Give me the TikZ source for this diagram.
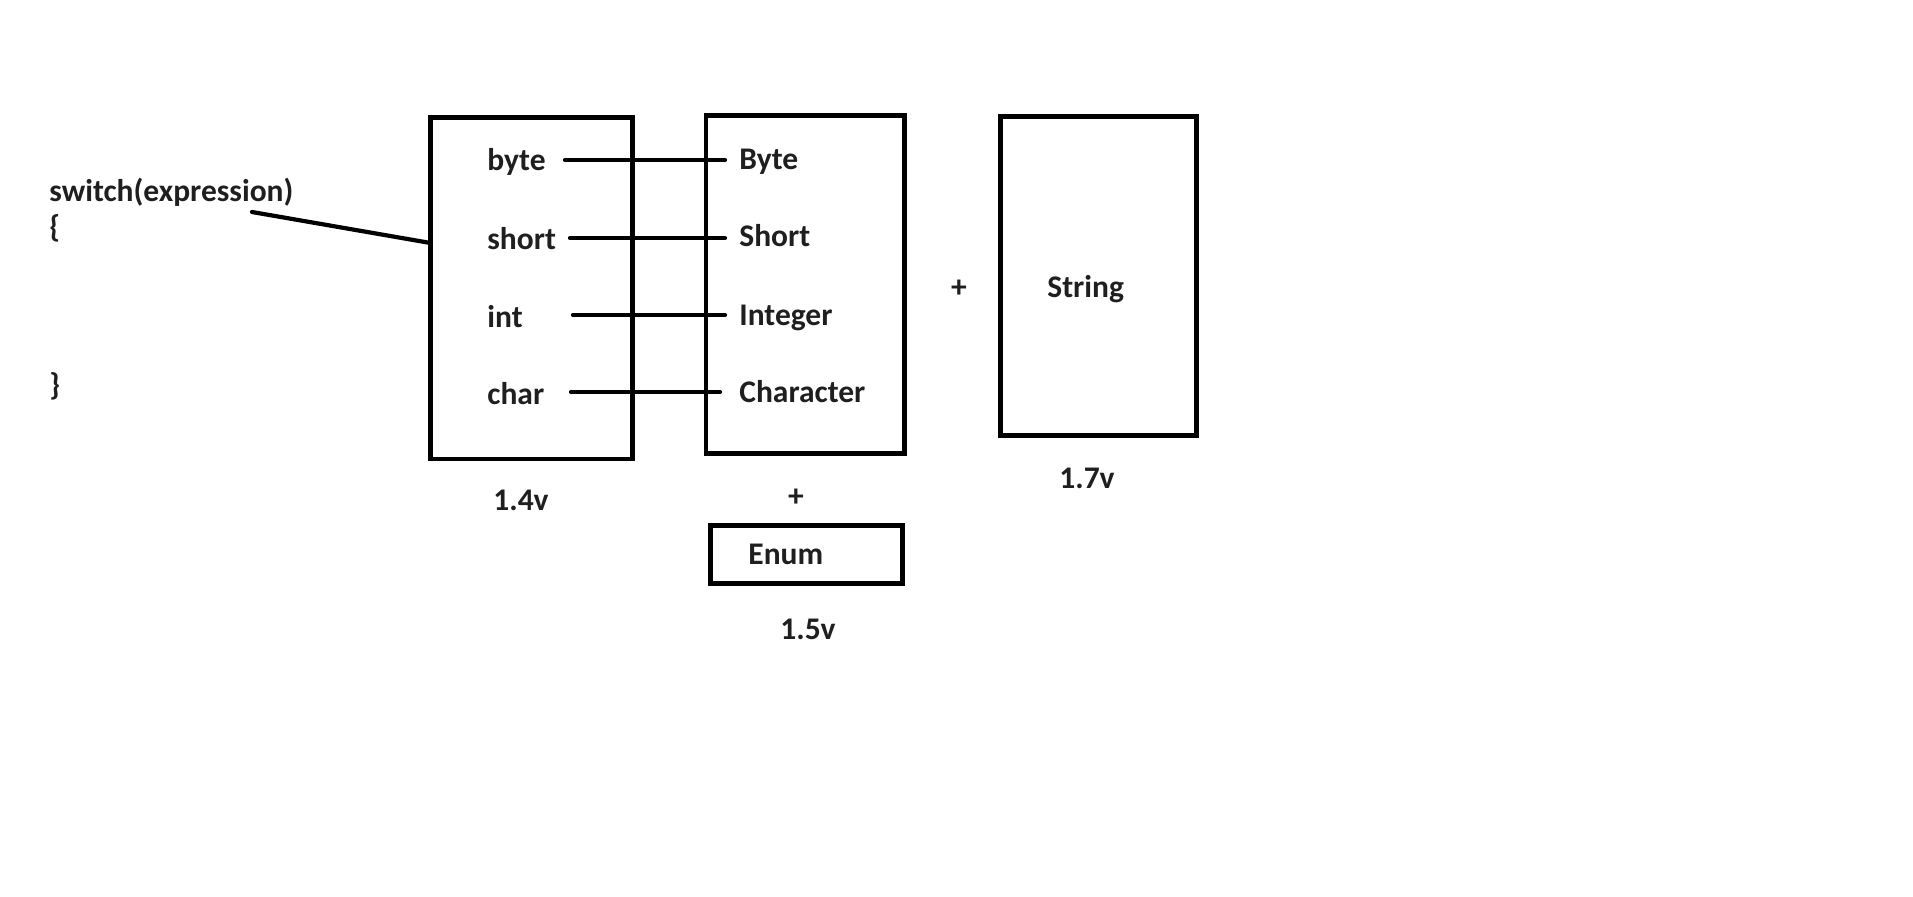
\documentclass[tikz,border=0pt]{standalone}
\usepackage{fontspec}
\setmainfont{Carlito}
\begin{document}
\begin{tikzpicture}[x=0.5pt,y=-0.5pt,
  lbl/.style={font=\fontsize{15.75}{19}\selectfont\bfseries, text=black!88, inner sep=0pt, anchor=base west},
  clbl/.style={lbl, anchor=base},
  plus/.style={lbl, anchor=center},
  box/.style={draw, line width=2.35pt, inner sep=0pt},
  conn/.style={line width=2.1pt, line cap=round}]
\useasboundingbox (0,0) rectangle (1913,897);

% boxes
\node[box, minimum width=101pt, minimum height=170.75pt] (prim) at (531.5,288.25) {};
\node[box, minimum width=99.25pt, minimum height=169pt] (wrap) at (805.25,284.5) {};
\node[box, minimum width=98pt, minimum height=159.5pt] (strbox) at (1098.5,276) {};
\node[box, minimum width=96pt, minimum height=29pt] (enumbox) at (806.5,554.5) {};

% left text
\node[lbl] (sw) at (49,202) {switch(expression)};
\node[lbl] (ob) at (49,238) {\{};
\node[lbl] (cb) at (49,396) {\}};

% primitive labels
\node[lbl] (byte) at (487,171) {byte};
\node[lbl] (short) at (487,250) {short};
\node[lbl] (int) at (487,328) {int};
\node[lbl] (char) at (487,405) {char};

% wrapper labels
\node[lbl] (Byte) at (739,170) {Byte};
\node[lbl] (Short) at (739,247) {Short};
\node[lbl] (Integer) at (739,326) {Integer};
\node[lbl] (Character) at (739,403) {Character};

\node[lbl] (String) at (1047,298) {String};
\node[lbl] (Enum) at (748,565) {Enum};

\node[plus] (p1) at (959,289) {+};
\node[plus] (p2) at (796,498) {+};

\node[clbl] (v14) at (521,511) {1.4v};
\node[clbl] (v15) at (808,640) {1.5v};
\node[clbl] (v17) at (1087,489) {1.7v};

% connector end points
\coordinate (swend) at (252,212);
\coordinate (primin) at (430.5,243);
\coordinate (a1) at (565,160);   \coordinate (b1) at (725,160);
\coordinate (a2) at (570,238);   \coordinate (b2) at (725,238);
\coordinate (a3) at (573,315);   \coordinate (b3) at (725,315);
\coordinate (a4) at (571,392);   \coordinate (b4) at (720,392);

\draw[conn] (swend) -- (primin);
\draw[conn] (a1) -- (b1);
\draw[conn] (a2) -- (b2);
\draw[conn] (a3) -- (b3);
\draw[conn] (a4) -- (b4);
\end{tikzpicture}
\end{document}
